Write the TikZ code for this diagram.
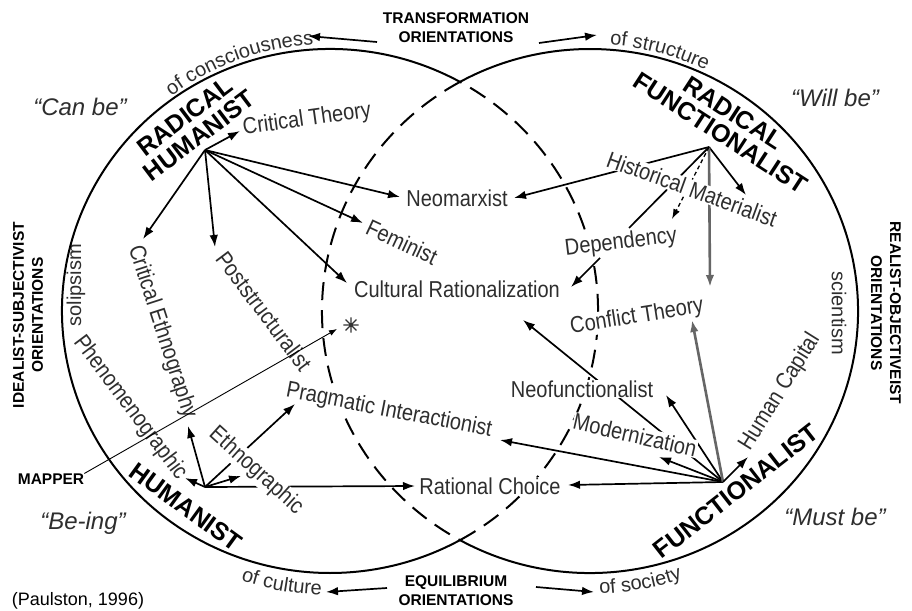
\documentclass[tikz,border=0pt]{standalone}
\usepackage{fontspec}
\setmainfont{Liberation Sans}
\newfontfamily\condf[FakeStretch=0.87]{Liberation Sans}
\usetikzlibrary{arrows.meta,decorations.text}
\begin{document}
\begin{tikzpicture}[x=1pt,y=1pt,
  circ/.style={line width=2pt},
  dsh/.style={line width=2pt, dash pattern=on 18pt off 10pt},
  arr/.style={line width=1.7pt, -{Latex[length=12pt,width=8.5pt]}},
  thin arr/.style={line width=0.9pt, -{Latex[length=8pt,width=6pt]}},
  garr/.style={line width=2.6pt, draw=black!60, -{Latex[length=12pt,width=8.5pt]}},
  darr/.style={line width=1.3pt, dash pattern=on 4pt off 3pt, -{Latex[length=10pt,width=7pt]}},
  lbl/.style={font=\condf\fontsize{23}{23}\selectfont, text=black!82, fill=white, inner sep=0.5pt},
  big/.style={font=\bfseries\fontsize{25}{24}\selectfont, align=center, inner sep=0pt},
  orient/.style={font=\bfseries\fontsize{15.5}{19}\selectfont, align=center, inner sep=0pt},
  quo/.style={font=\itshape\fontsize{24}{24}\selectfont, text=black!82},
  sml/.style={font=\fontsize{20}{20}\selectfont, text=black!82, inner sep=0.5pt},
  arctext/.style={decorate, decoration={text along path, text color=black!82, text align=center,
     text={|\fontsize{20}{20}\selectfont|#1}}},
]
\fill[white] (0,0) rectangle (912,-610);
\useasboundingbox (0,0) rectangle (912,-610);

% centres of the two circles
\coordinate (L) at (330,-311);
\coordinate (R) at (590,-311);

% hubs
\coordinate (rh) at (205,-150);
\coordinate (hh) at (205,-487);
\coordinate (rf) at (709,-147);
\coordinate (fh) at (723,-482);

% arrow ends
\coordinate (ct1) at (240,-131);
\coordinate (nm1) at (400,-197);
\coordinate (fe1) at (363,-223);
\coordinate (cr1) at (347,-283);
\coordinate (ps1) at (215,-247);
\coordinate (ce1) at (143,-239);

\coordinate (ce2) at (188,-426);
\coordinate (ph2) at (185,-478);
\coordinate (et2) at (241,-476);
\coordinate (pi2) at (295,-404);
\coordinate (rc2) at (415,-486);

\coordinate (nm3) at (514,-198);
\coordinate (hm3) at (746,-195);
\coordinate (cf3) at (710,-287);
\coordinate (dp3) at (672,-219);
\coordinate (dpl) at (629,-228);
\coordinate (dp0) at (600,-258);
\coordinate (dp1) at (571,-287);

\coordinate (rc4) at (568,-485);
\coordinate (pi4) at (500,-440);
\coordinate (md4) at (659,-457);
\coordinate (nf4) at (666,-395);
\coordinate (cr4) at (523,-320);
\coordinate (cf4) at (692,-320);
\coordinate (hc4) at (748,-457);

\coordinate (tl0) at (377,-42);
\coordinate (tl1) at (308,-36);
\coordinate (tr0) at (539,-43);
\coordinate (tr1) at (597,-35);
\coordinate (bl0) at (387,-588);
\coordinate (bl1) at (326,-592);
\coordinate (br0) at (536,-587);
\coordinate (br1) at (594,-592);
\coordinate (mp1) at (337,-329);

% arrows from the Radical Humanist hub
\draw[arr] (rh) -- (ct1);
\draw[arr] (rh) -- (nm1);
\draw[arr] (rh) -- (fe1);
\draw[arr] (rh) -- (cr1);
\draw[arr] (rh) -- (ps1);
\draw[arr] (rh) -- (ce1);
% arrows from the Humanist hub
\draw[arr] (hh) -- (ce2);
\draw[arr] (hh) -- (ph2);
\draw[arr] (hh) -- (et2);
\draw[arr] (hh) -- (pi2);
\draw[arr] (hh) -- (rc2);
% arrows from the Radical Functionalist hub
\draw[arr] (rf) -- (nm3);
\draw[arr] (rf) -- (hm3);
\draw[garr] (rf) -- (cf3);
\draw[darr] (rf) -- (dp3);
\draw[line width=1.7pt] (rf) -- (dpl);
\draw[arr] (dp0) -- (dp1);
% arrows from the Functionalist hub
\draw[arr] (fh) -- (rc4);
\draw[arr] (fh) -- (pi4);
\draw[arr] (fh) -- (md4);
\draw[arr] (fh) -- (nf4);
\draw[arr] (fh) -- (cr4);
\draw[garr] (fh) -- (cf4);
\draw[arr] (fh) -- (hc4);

% dashed inner arcs
\draw[dsh] ([shift={(-61:268 and 262)}]L) arc[start angle=-61, end angle=61, x radius=268, y radius=262];
\draw[dsh] ([shift={(119:268 and 262)}]R) arc[start angle=119, end angle=241, x radius=268, y radius=262];

% light labels
\node[lbl, rotate=8] (crt) at (307,-120) {Critical Theory};
\node[lbl] (neo) at (457,-198) {Neomarxist};
\node[lbl, rotate=-25] (fem) at (402,-242) {Feminist};
\node[lbl] (cul) at (457,-289) {Cultural Rationalization};
\node[lbl, rotate=-53] (pst) at (264,-311) {Poststructuralist};
\node[lbl, rotate=-72] (cre) at (162,-332) {Critical Ethnography};
\node[lbl, rotate=-53] (phe) at (130,-408) {Phenomenographic};
\node[lbl, rotate=-42] (eth) at (256,-471) {Ethnographic};
\node[lbl, rotate=-11] (pra) at (389,-411) {Pragmatic Interactionist};
\node[lbl] (rat) at (490,-486) {Rational Choice};
\node[lbl] (nfu) at (582,-389) {Neofunctionalist};
\node[lbl, rotate=-13] (mod) at (635,-435) {Modernization};
\node[lbl, rotate=58] (hum) at (780,-392) {Human Capital};
\node[lbl, rotate=9] (cft) at (637,-317) {Conflict Theory};
\node[lbl, rotate=7] (dep) at (621,-243) {Dependency};
\node[lbl, rotate=-20] (his) at (692,-189) {Historical Materialist};
\node[sml, rotate=90] (sol) at (76,-285) {solipsism};
\node[sml, rotate=-90] (sci) at (839,-313) {scientism};

% solid outer arcs
\draw[circ] ([shift={(61:268 and 262)}]L) arc[start angle=61, end angle=299, x radius=268, y radius=262];
\draw[circ] ([shift={(-119:268 and 262)}]R) arc[start angle=-119, end angle=119, x radius=268, y radius=262];

% paradigm labels
\node[big, rotate=37] (rhl) at (192,-126) {RADICAL\\HUMANIST};
\node[big, rotate=-33] (rfl) at (727,-123) {RADICAL\\FUNCTIONALIST};
\node[big, rotate=-36] (hl) at (186,-507) {HUMANIST};
\node[big, rotate=38] (fl) at (736,-491) {FUNCTIONALIST};

% orientation labels
\node[orient] (trans) at (456,-28) {TRANSFORMATION\\ORIENTATIONS};
\node[orient] (equi) at (456,-591) {EQUILIBRIUM\\ORIENTATIONS};
\node[orient, rotate=90] (ideal) at (28,-315) {IDEALIST-SUBJECTIVIST\\ORIENTATIONS};
\node[orient, rotate=-90] (real) at (886,-313) {REALIST-OBJECTIVEIST\\ORIENTATIONS};
\node[orient] (mapper) at (51,-479) {MAPPER};

\node[quo] (canbe) at (80,-107) {“Can be”};
\node[quo] (willbe) at (835,-98) {“Will be”};
\node[quo] (being) at (83,-523) {“Be-ing”};
\node[quo] (mustbe) at (835,-517) {“Must be”};

\node[font=\fontsize{18}{18}\selectfont] (src) at (78,-601) {(Paulston, 1996)};

% asterisk
\node[circle, minimum size=15pt, inner sep=0pt] (ast) at (351,-325) {};
\draw[line width=1.3pt, black!80] (ast.north) -- (ast.south) (ast.east) -- (ast.west)
  (ast.north east) -- (ast.south west) (ast.north west) -- (ast.south east);

% texts along the circles
\path[arctext={of consciousness}] ([shift={(130:267)}]L) arc[start angle=130, end angle=90, radius=267];
\path[arctext={of structure}] ([shift={(95:267)}]R) arc[start angle=95, end angle=55, radius=267];
\path[arctext={of culture}] ([shift={(240:284)}]L) arc[start angle=240, end angle=280, radius=284];
\path[arctext={of society}] ([shift={(260:283)}]R) arc[start angle=260, end angle=301, radius=283];

% orientation arrows
\draw[arr] (tl0) -- (tl1);
\draw[arr] (tr0) -- (tr1);
\draw[arr] (bl0) -- (bl1);
\draw[arr] (br0) -- (br1);

% mapper line
\draw[thin arr] (mapper.north east) -- (mp1);
\end{tikzpicture}
\end{document}
